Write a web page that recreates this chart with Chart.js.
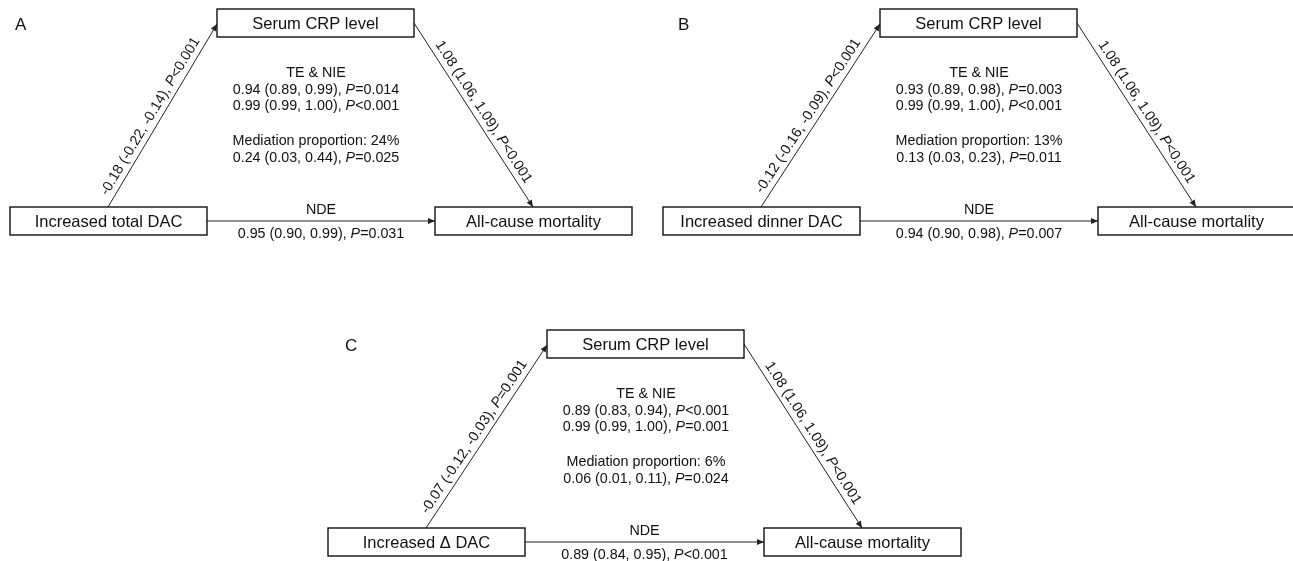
<!DOCTYPE html>
<html>
<head>
<meta charset="utf-8">
<script src="https://cdn.jsdelivr.net/npm/chart.js@4"></script>
<style>
  html, body { margin: 0; padding: 0; background: #fff; }
  #wrap { width: 1293px; height: 561px; position: relative; }
</style>
</head>
<body>
<div id="wrap"><canvas id="chart"></canvas></div>
<script>
// data
const panelLetters = ["A", "B", "C"];
const exposureLabels = ["Increased total DAC", "Increased dinner DAC", "Increased \u0394 DAC"];
const mediatorLabel = "Serum CRP level";
const outcomeLabel = "All-cause mortality";
const exposureToMediator = ["-0.18 (-0.22, -0.14), P<0.001", "-0.12 (-0.16, -0.09), P<0.001", "-0.07 (-0.12, -0.03), P=0.001"];
const mediatorToOutcome = ["1.08 (1.06, 1.09), P<0.001", "1.08 (1.06, 1.09), P<0.001", "1.08 (1.06, 1.09), P<0.001"];
const totalEffect = ["0.94 (0.89, 0.99), P=0.014", "0.93 (0.89, 0.98), P=0.003", "0.89 (0.83, 0.94), P<0.001"];
const indirectEffect = ["0.99 (0.99, 1.00), P<0.001", "0.99 (0.99, 1.00), P<0.001", "0.99 (0.99, 1.00), P=0.001"];
const mediationPct = ["24%", "13%", "6%"];
const mediationCI = ["0.24 (0.03, 0.44), P=0.025", "0.13 (0.03, 0.23), P=0.011", "0.06 (0.01, 0.11), P=0.024"];
const directEffect = ["0.95 (0.90, 0.99), P=0.031", "0.94 (0.90, 0.98), P=0.007", "0.89 (0.84, 0.95), P<0.001"];

// layout of the three panels (scale units = px of the 1293x561 page)
const expX = [10, 663, 328];
const medX = [217, 880, 547];
const outX = [435, 1098, 764];
const panelTop = [0, 0, 321];
const boxW = 197, boxH = 28;

const FONT = "'Liberation Sans', Arial, sans-serif";
const LINE = "#222";

let datasets = [];
panelLetters.forEach((p, i) => {
    let t = panelTop[i];
    datasets.push({ data: [{x: expX[i] + 98, y: t + 207}, {x: medX[i], y: t + 24}], label: "a" + i });
    datasets.push({ data: [{x: medX[i] + boxW, y: t + 23}, {x: outX[i] + 98, y: t + 207}], label: "b" + i });
    datasets.push({ data: [{x: expX[i] + boxW, y: t + 221}, {x: outX[i], y: t + 221}], label: "c" + i });
});
datasets.forEach(d => {
    d.showLine = true;
    d.borderColor = LINE;
    d.borderWidth = 1;
    d.pointRadius = 0;
    d.fill = false;
});

// text with italic P
function richText(ctx, str, x, y, size, align) {
    let parts = str.split(/(P)(?=[=<])/).filter(s => s !== "");
    let norm = size + "px " + FONT, ital = "italic " + size + "px " + FONT;
    let w = 0;
    parts.forEach(s => { ctx.font = s === "P" ? ital : norm; w += ctx.measureText(s).width; });
    let cx = align === "center" ? x - w / 2 : x;
    ctx.textAlign = "left";
    parts.forEach(s => {
        ctx.font = s === "P" ? ital : norm;
        ctx.fillText(s, cx, y);
        cx += ctx.measureText(s).width;
    });
}

const diagram = {
    id: "diagram",
    afterDatasetsDraw(chart) {
        let ctx = chart.ctx;
        let xs = chart.scales.x, ys = chart.scales.y;
        let px = v => xs.getPixelForValue(v), py = v => ys.getPixelForValue(v);
        ctx.save();
        ctx.fillStyle = "#000";

        // arrow heads
        chart.data.datasets.forEach((d, k) => {
            let pts = chart.getDatasetMeta(k).data;
            let a = pts[0], b = pts[pts.length - 1];
            let ang = Math.atan2(b.y - a.y, b.x - a.x);
            let L = 7, W = 3;
            ctx.beginPath();
            ctx.moveTo(b.x, b.y);
            ctx.lineTo(b.x - L * Math.cos(ang) + W * Math.sin(ang), b.y - L * Math.sin(ang) - W * Math.cos(ang));
            ctx.lineTo(b.x - L * Math.cos(ang) - W * Math.sin(ang), b.y - L * Math.sin(ang) + W * Math.cos(ang));
            ctx.closePath();
            ctx.fillStyle = LINE;
            ctx.fill();
        });

        panelLetters.forEach((p, i) => {
            let t = panelTop[i];
            // boxes
            let boxes = [[expX[i], t + 207, exposureLabels[i]], [medX[i], t + 9, mediatorLabel], [outX[i], t + 207, outcomeLabel]];
            boxes.forEach(bx => {
                let x0 = px(bx[0]), y0 = py(bx[1]), x1 = px(bx[0] + boxW), y1 = py(bx[1] + boxH);
                ctx.fillStyle = "#fff";
                ctx.fillRect(x0, y0, x1 - x0, y1 - y0);
                ctx.strokeStyle = "#111";
                ctx.lineWidth = 1.4;
                ctx.strokeRect(x0, y0, x1 - x0, y1 - y0);
                ctx.fillStyle = "#111";
                ctx.font = "16.5px " + FONT;
                ctx.textAlign = "center";
                ctx.textBaseline = "middle";
                ctx.fillText(bx[2], (x0 + x1) / 2, (y0 + y1) / 2 + 1);
            });

            ctx.fillStyle = "#111";
            ctx.textBaseline = "middle";
            // panel letter
            ctx.font = "17px " + FONT;
            ctx.textAlign = "left";
            ctx.fillText(p, px(medX[i] - 202), py(t + 25));

            // centre block
            let cx = px(medX[i] + 99);
            richText(ctx, "TE & NIE", cx, py(t + 73), 14.3, "center");
            richText(ctx, totalEffect[i], cx, py(t + 90), 14.3, "center");
            richText(ctx, indirectEffect[i], cx, py(t + 106), 14.3, "center");
            richText(ctx, "Mediation proportion: " + mediationPct[i], cx, py(t + 141), 14.3, "center");
            richText(ctx, mediationCI[i], cx, py(t + 158), 14.3, "center");

            // NDE
            let nx = px((expX[i] + boxW + outX[i]) / 2);
            richText(ctx, "NDE", nx, py(t + 210), 14.3, "center");
            richText(ctx, directEffect[i], nx, py(t + 234), 14.3, "center");

            // slanted labels
            [[3 * i, exposureToMediator[i], -7], [3 * i + 1, mediatorToOutcome[i], 3]].forEach(([k, txt, along]) => {
                let pts = chart.getDatasetMeta(k).data;
                let a = pts[0], b = pts[1];
                let ang = Math.atan2(b.y - a.y, b.x - a.x);
                let mx = (a.x + b.x) / 2, my = (a.y + b.y) / 2;
                ctx.save();
                ctx.translate(mx, my);
                ctx.rotate(ang);
                ctx.textBaseline = "alphabetic";
                ctx.fillStyle = "#111";
                richText(ctx, txt, along, -6, 14.3, "center");
                ctx.restore();
            });
        });
        ctx.restore();
    }
};

new Chart(document.getElementById("chart"), {
    type: "scatter",
    data: { datasets: datasets },
    options: {
        responsive: true,
        maintainAspectRatio: false,
        animation: false,
        layout: { padding: 0 },
        plugins: { legend: { display: false }, tooltip: { enabled: false } },
        scales: {
            x: { type: "linear", min: 0, max: 1293, display: false },
            y: { type: "linear", min: 0, max: 561, reverse: true, display: false }
        }
    },
    plugins: [diagram]
});
</script>
</body>
</html>
